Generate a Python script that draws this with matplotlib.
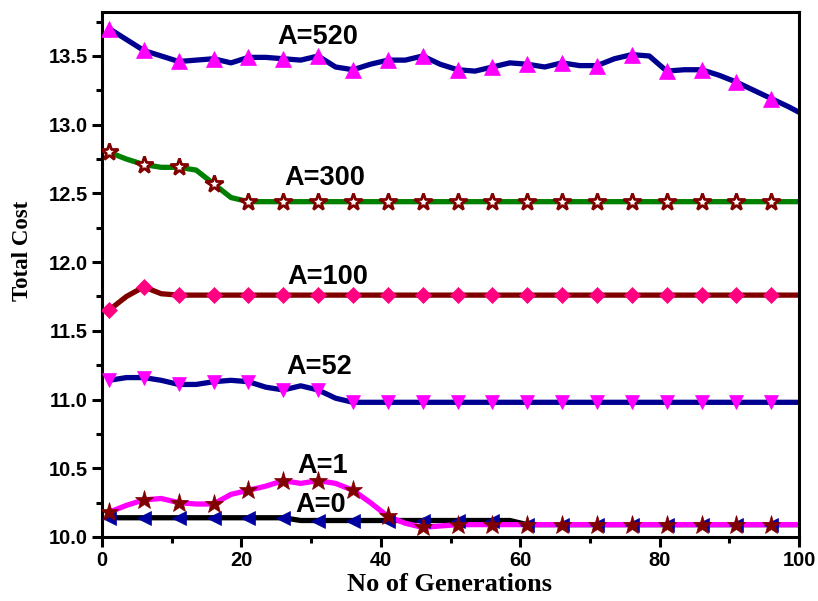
import matplotlib.pyplot as plt
from matplotlib.ticker import MultipleLocator

# generation positions (markers sit on every second one)
generations = [1, 3.5, 6, 8.5, 11, 13.5, 16, 18.5, 21, 23.5, 26, 28.5, 31, 33.5,
               36, 38.5, 41, 43.5, 46, 48.5, 51, 53.5, 56, 58.5, 61, 63.5, 66,
               68.5, 71, 73.5, 76, 78.5, 81, 83.5, 86, 88.5, 91, 93.5, 96, 98.5, 100]

cost_a520 = [13.70, 13.62, 13.54, 13.50, 13.46, 13.47, 13.48, 13.45, 13.49, 13.49,
             13.48, 13.47, 13.50, 13.42, 13.40, 13.44, 13.47, 13.47, 13.50, 13.44,
             13.40, 13.39, 13.42, 13.45, 13.44, 13.42, 13.45, 13.43, 13.43, 13.48,
             13.51, 13.50, 13.39, 13.40, 13.40, 13.36, 13.31, 13.25, 13.19, 13.13, 13.09]

cost_a300 = [12.80, 12.75, 12.71, 12.69, 12.69, 12.67, 12.57, 12.47, 12.44, 12.44,
             12.44, 12.44, 12.44, 12.44, 12.44, 12.44, 12.44, 12.44, 12.44, 12.44,
             12.44, 12.44, 12.44, 12.44, 12.44, 12.44, 12.44, 12.44, 12.44, 12.44,
             12.44, 12.44, 12.44, 12.44, 12.44, 12.44, 12.44, 12.44, 12.44, 12.44, 12.44]

cost_a100 = [11.65, 11.75, 11.82, 11.77, 11.76, 11.76, 11.76, 11.76, 11.76, 11.76,
             11.76, 11.76, 11.76, 11.76, 11.76, 11.76, 11.76, 11.76, 11.76, 11.76,
             11.76, 11.76, 11.76, 11.76, 11.76, 11.76, 11.76, 11.76, 11.76, 11.76,
             11.76, 11.76, 11.76, 11.76, 11.76, 11.76, 11.76, 11.76, 11.76, 11.76, 11.76]

cost_a52 = [11.14, 11.16, 11.16, 11.14, 11.11, 11.11, 11.13, 11.14, 11.13, 11.09,
            11.07, 11.10, 11.07, 11.01, 10.98, 10.98, 10.98, 10.98, 10.98, 10.98,
            10.98, 10.98, 10.98, 10.98, 10.98, 10.98, 10.98, 10.98, 10.98, 10.98,
            10.98, 10.98, 10.98, 10.98, 10.98, 10.98, 10.98, 10.98, 10.98, 10.98, 10.98]

cost_a1 = [10.18, 10.23, 10.27, 10.28, 10.25, 10.24, 10.24, 10.31, 10.34, 10.37,
           10.41, 10.39, 10.41, 10.39, 10.34, 10.25, 10.15, 10.10, 10.07, 10.08,
           10.09, 10.09, 10.09, 10.09, 10.09, 10.09, 10.09, 10.09, 10.09, 10.09,
           10.09, 10.09, 10.09, 10.09, 10.09, 10.09, 10.09, 10.09, 10.09, 10.09, 10.09]

cost_a0 = [10.14, 10.14, 10.14, 10.14, 10.14, 10.14, 10.14, 10.14, 10.14, 10.14,
           10.14, 10.12, 10.12, 10.12, 10.12, 10.12, 10.12, 10.12, 10.12, 10.12,
           10.12, 10.12, 10.12, 10.12, 10.09, 10.09, 10.09, 10.09, 10.09, 10.09,
           10.09, 10.09, 10.09, 10.09, 10.09, 10.09, 10.09, 10.09, 10.09, 10.09, 10.09]

series = [
    # label, values, line colour, marker, marker face, marker edge, marker size, label pos
    ('A=0', cost_a0, 'black', '<', '#0000a0', '#0000a0', 10, (31.3, 10.23)),
    ('A=1', cost_a1, '#ff00ff', '*', '#800000', '#800000', 14, (31.6, 10.515)),
    ('A=52', cost_a52, '#000090', 'v', '#ff00ff', '#ff00ff', 10, (31.1, 11.24)),
    ('A=100', cost_a100, '#800000', 'D', '#ff0080', '#ff0080', 8, (32.4, 11.89)),
    ('A=300', cost_a300, '#008000', '*', 'white', '#800000', 13, (32.0, 12.61)),
    ('A=520', cost_a520, '#000090', '^', '#ff00ff', '#ff00ff', 11, (31.0, 13.635)),
]

fig = plt.figure(figsize=(8.18, 6.01), dpi=100)
ax = fig.add_axes([0.1247, 0.1065, 0.8523, 0.8735])

marker_gens = generations[0:40:2]
for name, values, color, marker, mfc, mec, ms, pos in series:
    ax.plot(generations, values, color=color, linewidth=3.8, solid_capstyle='butt', zorder=2)
    mew = 2 if mfc == 'white' else 0.5
    ax.plot(marker_gens, values[0:40:2], linestyle='none', marker=marker, markersize=ms,
            markerfacecolor=mfc, markeredgecolor=mec, markeredgewidth=mew, zorder=3)
    ax.text(pos[0], pos[1], name, ha='center', va='center', fontsize=19.5,
            fontweight='bold', family='Liberation Sans')

ax.set_xlim(0, 100)
ax.set_ylim(10.0, 13.82)
ax.xaxis.set_major_locator(MultipleLocator(20))
ax.xaxis.set_minor_locator(MultipleLocator(10))
ax.yaxis.set_major_locator(MultipleLocator(0.5))
ax.yaxis.set_minor_locator(MultipleLocator(0.25))
ax.yaxis.set_major_formatter(plt.FormatStrFormatter('%.1f'))

for side in ['left', 'right', 'top', 'bottom']:
    ax.spines[side].set_linewidth(2.2)
ax.tick_params(which='major', direction='out', length=7, width=2.2, top=False, right=False)
ax.tick_params(which='minor', direction='out', length=4, width=2.2, top=False, right=False)
ax.tick_params(axis='both', labelsize=14.5, pad=3)
for lbl in ax.get_xticklabels() + ax.get_yticklabels():
    lbl.set_fontweight('bold')
    lbl.set_family('Liberation Sans')

ax.set_xlabel('No of Generations', fontsize=19, fontweight='bold',
              family='Liberation Serif')
ax.set_ylabel('Total Cost', fontsize=16.5, fontweight='bold',
              family='Liberation Serif')
ax.xaxis.set_label_coords(0.499, -0.068)
ax.yaxis.set_label_coords(-0.099, 0.545)

fig.savefig('out.png', dpi=100)
